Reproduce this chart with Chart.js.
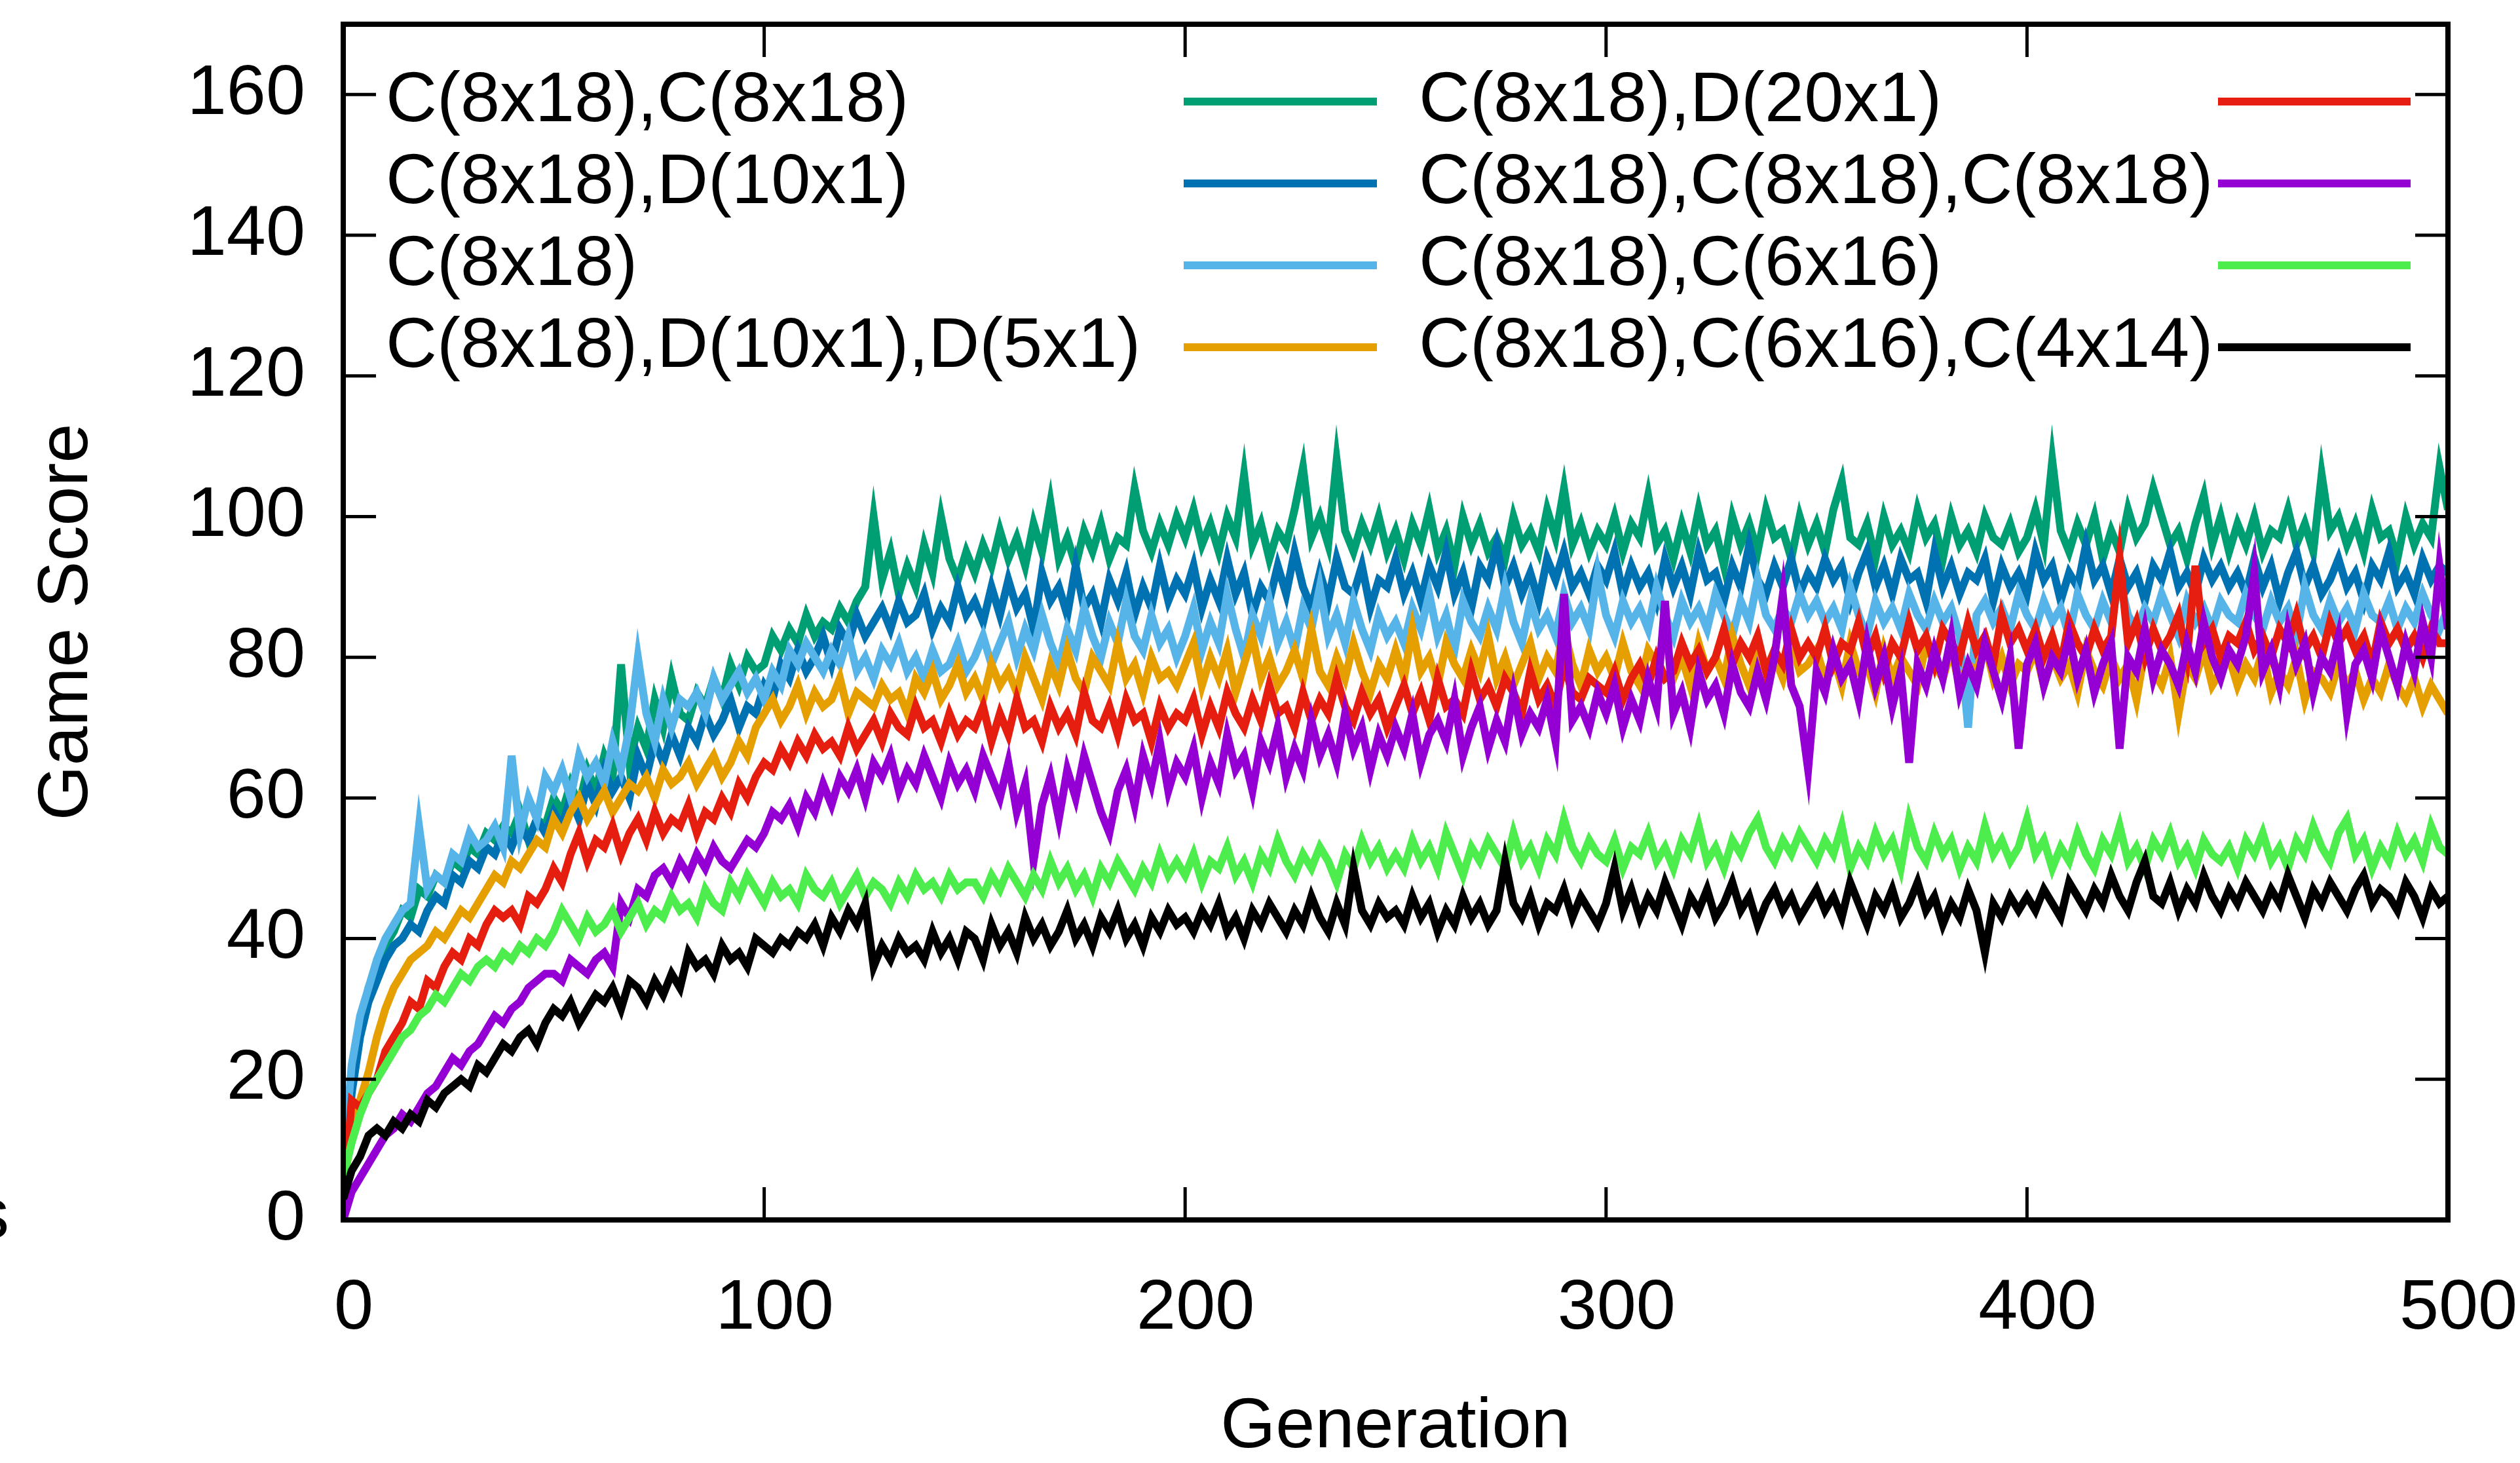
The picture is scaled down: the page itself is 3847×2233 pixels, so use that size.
<!DOCTYPE html>
<html>
<head>
<meta charset="utf-8">
<script src="https://cdn.jsdelivr.net/npm/chart.js@4.4.1/dist/chart.umd.min.js"></script>
<style>
  html, body { margin: 0; padding: 0; background: #fff; }
  #wrap { width: 3847px; height: 2233px; position: relative; }
</style>
</head>
<body>
<div id="wrap"><canvas id="myChart"></canvas></div>
<script>
// generations sampled every 2 steps (0..500)
var genStep = 2;
var xTicks = [0, 100, 200, 300, 400, 500];
var yTicks = [0, 20, 40, 60, 80, 100, 120, 140, 160];

var labels = ["C(8x18),C(8x18)", "C(8x18),D(10x1)", "C(8x18)", "C(8x18),D(10x1),D(5x1)",
              "C(8x18),D(20x1)", "C(8x18),C(8x18),C(8x18)", "C(8x18),C(6x16)", "C(8x18),C(6x16),C(4x14)"];
var lineColors = ["#009e73", "#0072b2", "#56b4e9", "#e69f00", "#e51e10", "#9400d3", "#4ded4d", "#000000"];

var cc = [5,20,27,33,36,39,41,44,43,47,46,49,48,51,50,53,52,55,54,56,55,58,54,57,56,
  60,58,62,59,64,61,66,63,79,65,70,67,74,70,77,72,71,75,73,77,74,79,76,80,78,
  79,83,81,84,82,86,83,85,84,87,85,88,90,100,91,95,89,93,90,96,92,100,94,91,95,
  92,96,93,98,94,97,93,99,95,102,94,97,93,98,95,99,94,97,96,104,98,95,99,96,100,
  97,101,96,99,95,100,97,106,96,99,94,98,96,101,107,97,100,96,108,98,95,99,96,100,95,
  98,94,99,96,101,95,98,93,100,96,99,95,97,94,100,96,98,95,101,97,104,96,99,95,98,
  96,100,95,99,97,103,96,98,94,99,95,101,96,98,93,100,96,99,95,101,97,98,94,100,96,
  99,95,101,105,97,96,99,94,100,96,98,95,101,97,99,94,100,96,98,95,100,97,96,99,95,
  97,101,96,108,98,95,99,96,100,94,98,95,101,97,99,104,100,96,98,94,99,103,96,100,95,
  99,96,100,95,98,97,101,96,99,95,106,98,100,96,99,95,101,97,98,94,100,96,99,97,107,
  101];
var cd10 = [3,18,26,31,34,37,39,40,42,41,44,46,45,49,48,51,50,53,52,55,53,56,54,57,55,
  58,56,60,57,62,59,64,61,63,60,66,63,68,65,69,66,70,68,72,69,71,74,70,73,72,
  76,74,79,77,81,78,80,83,79,84,82,86,83,85,87,84,88,85,86,89,84,87,85,90,86,
  88,85,90,86,91,87,89,84,92,88,90,86,93,87,89,85,91,88,92,86,90,87,93,88,91,
  89,93,87,91,88,94,89,92,86,90,88,93,89,95,90,87,92,88,94,90,89,93,87,91,90,
  94,89,92,88,93,90,95,89,92,87,93,91,96,90,93,89,92,88,94,91,95,90,92,89,93,
  91,95,89,93,90,92,88,94,90,93,89,95,91,92,88,93,90,96,91,89,93,90,94,89,92,
  90,94,91,93,88,92,95,90,93,89,94,91,92,88,95,90,93,89,92,91,94,88,93,90,92,
  89,95,91,93,88,92,90,96,91,93,89,94,90,92,88,93,91,95,90,92,89,94,91,93,90,
  92,89,94,90,93,88,92,95,90,93,89,91,94,90,92,88,93,91,95,90,92,89,94,91,93,
  92];
var c1 = [8,22,29,33,37,40,42,44,45,56,47,49,48,52,51,55,53,54,56,53,66,55,60,57,63,
  61,64,60,66,63,65,62,68,64,70,80,72,68,74,70,74,73,75,72,77,74,76,78,75,77,
  74,78,76,81,79,82,80,78,81,79,83,78,80,77,81,79,82,78,80,77,81,78,79,82,78,
  80,83,79,82,85,80,84,81,86,82,79,84,81,87,83,80,85,82,88,83,81,86,82,84,80,
  83,87,81,85,82,89,84,80,86,83,88,82,85,81,87,84,90,83,86,82,88,84,81,86,83,
  85,82,87,84,89,83,86,81,88,85,83,87,84,90,85,82,88,84,86,83,89,85,87,84,92,
  86,83,88,85,87,84,90,86,83,88,85,87,84,89,86,83,88,85,91,86,84,87,85,89,86,
  88,85,87,84,90,86,83,88,85,87,84,89,86,84,88,85,87,83,70,86,88,85,87,84,89,
  86,84,88,85,87,83,89,86,84,88,85,91,86,84,87,85,89,86,83,88,85,87,84,88,86,
  85,89,86,84,88,85,87,83,90,86,84,88,85,87,84,89,86,85,88,84,87,85,89,86,84,
  87];
var cdd = [5,12,17,21,26,30,33,35,37,38,39,41,40,42,44,43,45,47,49,48,51,50,52,54,53,
  57,55,58,60,57,59,61,58,60,62,61,63,60,64,62,63,65,62,64,66,63,65,68,66,70,
  72,74,71,73,76,72,75,73,74,77,72,75,74,73,76,74,75,72,77,75,78,74,76,79,75,
  77,74,79,76,78,75,80,77,74,79,76,81,77,75,80,78,76,82,77,79,75,80,77,78,76,
  79,82,76,80,77,81,75,79,83,77,80,76,78,81,77,84,78,76,80,77,82,78,75,79,77,
  81,77,84,78,80,76,82,79,77,81,78,83,77,80,76,79,82,77,80,78,84,79,76,81,78,
  80,77,82,78,76,81,79,83,77,80,76,82,78,80,77,83,79,76,81,78,80,77,82,78,79,
  81,77,80,76,82,78,79,75,81,77,80,78,76,82,79,77,81,76,79,78,82,77,80,76,79,
  78,81,76,80,77,79,75,81,78,76,80,77,79,74,81,78,76,80,72,79,77,81,76,78,80,
  76,79,77,81,75,78,76,80,74,78,77,75,79,76,78,74,77,75,79,76,74,77,73,76,74,
  72];
var cd20 = [2,17,16,18,20,24,26,28,31,30,34,33,36,38,37,40,39,42,44,43,44,42,46,45,47,
  50,48,52,55,51,54,53,56,52,55,57,54,58,55,57,56,59,55,58,57,60,58,62,60,63,
  65,64,67,65,68,66,69,67,68,66,70,67,69,71,68,72,70,69,73,70,71,68,72,69,71,
  70,73,68,72,69,74,70,71,68,73,70,72,69,75,71,70,73,69,74,71,72,68,73,70,72,
  71,74,69,73,70,75,72,70,74,71,76,72,73,70,75,71,74,72,77,73,71,75,72,74,70,
  73,76,72,75,71,77,73,74,72,78,74,76,73,77,75,72,78,74,76,73,79,75,74,77,76,
  75,78,74,77,79,76,80,77,78,82,79,81,78,80,84,79,82,80,83,78,81,79,84,80,82,
  80,84,79,82,81,85,80,83,78,82,80,85,81,83,79,84,82,80,85,81,83,79,86,82,84,
  81,84,80,83,79,85,82,80,84,81,83,94,82,85,80,84,81,83,86,80,93,82,84,80,83,
  82,85,81,83,80,84,82,86,81,83,80,85,82,84,81,83,79,85,82,84,81,83,80,84,82,
  82];
var ccc = [0,4,6,8,10,12,13,15,14,16,18,19,21,23,22,24,25,27,29,28,30,31,33,34,35,
  35,34,37,36,35,37,38,36,45,43,47,46,49,50,48,51,49,52,50,53,51,50,52,54,53,
  55,58,57,59,56,60,58,62,59,63,61,64,60,65,63,66,61,64,62,66,63,60,65,62,64,
  61,66,63,60,65,58,62,51,59,63,57,64,60,66,62,58,55,61,64,59,66,62,68,61,65,
  63,67,60,65,62,69,64,66,61,68,65,70,63,67,64,71,66,69,65,72,67,70,64,69,66,
  70,67,72,65,69,71,68,74,66,70,73,67,71,68,75,69,72,70,74,68,89,71,73,70,75,
  72,76,70,74,71,77,73,88,72,75,70,78,74,76,72,79,75,73,78,74,80,89,76,73,64,
  78,75,81,77,79,74,82,76,80,73,78,65,79,76,81,77,83,75,79,76,82,78,74,80,67,
  79,82,76,80,78,83,77,81,75,79,82,67,80,78,84,77,81,79,76,82,78,85,80,77,81,
  79,83,92,78,81,76,84,79,82,75,80,78,83,72,79,81,77,84,80,76,82,78,85,80,93,
  84];
var c616 = [6,11,15,18,20,22,24,26,27,29,30,32,31,33,35,34,36,37,36,38,37,39,38,40,39,
  41,44,42,40,43,41,42,44,41,43,45,42,44,43,46,44,45,43,47,45,44,48,46,49,47,
  45,48,46,47,45,49,47,46,48,45,47,49,46,48,47,45,48,46,49,47,48,46,49,47,48,
  48,46,49,47,50,48,46,49,47,51,48,50,47,49,46,50,48,51,49,47,50,48,52,49,51,
  49,52,48,51,50,53,49,51,48,52,50,54,51,49,52,50,53,51,48,52,50,54,51,53,50,
  52,50,54,51,53,50,55,52,49,53,51,54,52,50,55,51,53,50,54,52,57,53,51,54,52,
  51,54,50,53,52,55,51,53,50,54,52,56,51,53,50,54,52,55,57,53,51,54,52,55,53,
  51,54,52,56,50,53,51,55,52,54,50,57,53,51,55,52,54,50,53,51,56,52,54,51,53,
  57,52,54,50,53,51,55,52,50,54,52,56,51,53,50,54,52,55,51,53,50,54,52,51,53,
  50,54,52,55,51,53,50,54,52,56,53,51,55,57,52,54,50,53,51,55,52,54,51,56,53,
  52];
var c414 = [3,7,9,12,13,12,14,13,15,14,17,16,18,19,20,19,22,21,23,25,24,26,27,25,28,
  30,29,31,28,30,32,31,33,30,34,33,31,34,32,35,33,38,36,37,35,39,37,38,36,40,
  39,38,40,39,41,40,42,39,43,41,44,42,45,36,39,37,40,38,39,37,41,38,40,37,41,
  40,37,42,39,41,38,43,40,42,39,41,44,40,42,39,43,41,44,40,42,39,43,41,44,42,
  43,41,44,42,45,41,43,40,44,42,45,43,41,44,42,46,43,41,45,42,50,44,42,45,43,
  44,42,46,43,45,41,44,42,46,43,45,42,44,51,45,43,46,42,45,44,47,43,46,44,42,
  45,50,44,47,43,46,44,48,45,42,46,44,47,43,45,48,44,46,42,45,47,44,46,43,45,
  47,44,46,43,48,45,42,46,44,47,43,45,48,44,46,42,45,43,47,44,38,45,43,46,44,
  46,44,47,45,43,48,46,44,47,45,49,46,44,48,51,46,45,48,44,47,45,49,46,44,47,
  45,48,46,44,47,45,49,46,43,47,45,48,46,44,47,49,45,47,46,44,48,46,43,47,45,
  46];

var series = [cc, cd10, c1, cdd, cd20, ccc, c616, c414];

var fontFamily = "'Liberation Sans', Arial, sans-serif";
var fontSize = 108;

var datasets = series.map(function (vals, i) {
  return {
    label: labels[i],
    data: vals.map(function (v, j) { return { x: j * genStep, y: v }; }),
    borderColor: lineColors[i],
    backgroundColor: lineColors[i],
    borderWidth: 12,
    pointRadius: 0,
    tension: 0,
    fill: false,
    order: -i   // later series drawn on top, like gnuplot
  };
});

// gnuplot style frame, inward ticks, key and the clipped glyph
var framePlugin = {
  id: 'frame',
  afterDatasetsDraw: function (chart) {
    var ctx = chart.ctx, a = chart.chartArea;
    var xs = chart.scales.x, ys = chart.scales.y;
    var tl = 50;
    ctx.save();
    ctx.strokeStyle = '#000';
    ctx.lineWidth = 5;
    ctx.beginPath();
    xTicks.forEach(function (t) {
      var px = xs.getPixelForValue(t);
      ctx.moveTo(px, a.bottom); ctx.lineTo(px, a.bottom - tl);
      ctx.moveTo(px, a.top); ctx.lineTo(px, a.top + tl);
    });
    yTicks.forEach(function (t) {
      var py = ys.getPixelForValue(t);
      ctx.moveTo(a.left, py); ctx.lineTo(a.left + tl, py);
      ctx.moveTo(a.right, py); ctx.lineTo(a.right - tl, py);
    });
    ctx.stroke();
    ctx.lineWidth = 8;
    ctx.strokeRect(a.left, a.top, a.right - a.left, a.bottom - a.top);

    // key: two columns, text then sample line
    ctx.font = fontSize + 'px ' + fontFamily;
    ctx.textBaseline = 'middle';
    ctx.textAlign = 'left';
    var cols = [{ tx: 589, l0: 1807, l1: 2102 }, { tx: 2166, l0: 3386, l1: 3680 }];
    var rows = [155, 280, 405, 530];
    chart.data.datasets.forEach(function (ds, i) {
      var c = cols[Math.floor(i / 4)], y = rows[i % 4];
      ctx.fillStyle = '#000';
      ctx.fillText(ds.label, c.tx, y);
      ctx.strokeStyle = ds.borderColor;
      ctx.lineWidth = 12;
      ctx.beginPath();
      ctx.moveTo(c.l0, y); ctx.lineTo(c.l1, y);
      ctx.stroke();
    });

    ctx.fillStyle = '#000';
    ctx.textAlign = 'right';
    ctx.textBaseline = 'alphabetic';
    ctx.fillText('s', 14, 1889);
    ctx.restore();
  }
};

new Chart("myChart", {
  type: "line",
  data: { datasets: datasets },
  options: {
    responsive: true,
    maintainAspectRatio: false,
    animation: false,
    layout: { padding: { left: 0, top: 37, right: 110, bottom: 0 } },
    plugins: { legend: { display: false }, tooltip: { enabled: false } },
    scales: {
      x: {
        type: 'linear', min: 0, max: 500,
        grid: { display: false, drawTicks: false },
        border: { display: false },
        afterBuildTicks: function (s) { s.ticks = xTicks.map(function (v) { return { value: v }; }); },
        afterFit: function (s) { s.height = 371; s.paddingLeft = 0; s.paddingRight = 0; },
        ticks: { color: '#000', padding: 82, labelOffset: 16, maxRotation: 0,
                 font: { family: fontFamily, size: fontSize, lineHeight: 1 } },
        title: { display: true, text: 'Generation', color: '#000', padding: { top: 0, bottom: 0 },
                 font: { family: fontFamily, size: fontSize, lineHeight: 1 } }
      },
      y: {
        type: 'linear', min: 0, max: 170,
        grid: { display: false, drawTicks: false },
        border: { display: false },
        afterBuildTicks: function (s) { s.ticks = yTicks.map(function (v) { return { value: v }; }); },
        afterFit: function (s) { s.width = 524; s.paddingTop = 0; s.paddingBottom = 0; },
        ticks: { color: '#000', padding: 58, font: { family: fontFamily, size: fontSize, lineHeight: 1 } },
        title: { display: true, text: 'Game Score', color: '#000', padding: { top: 49, bottom: 0 },
                 font: { family: fontFamily, size: fontSize, lineHeight: 1 } }
      }
    }
  },
  plugins: [framePlugin]
});
</script>
</body>
</html>
